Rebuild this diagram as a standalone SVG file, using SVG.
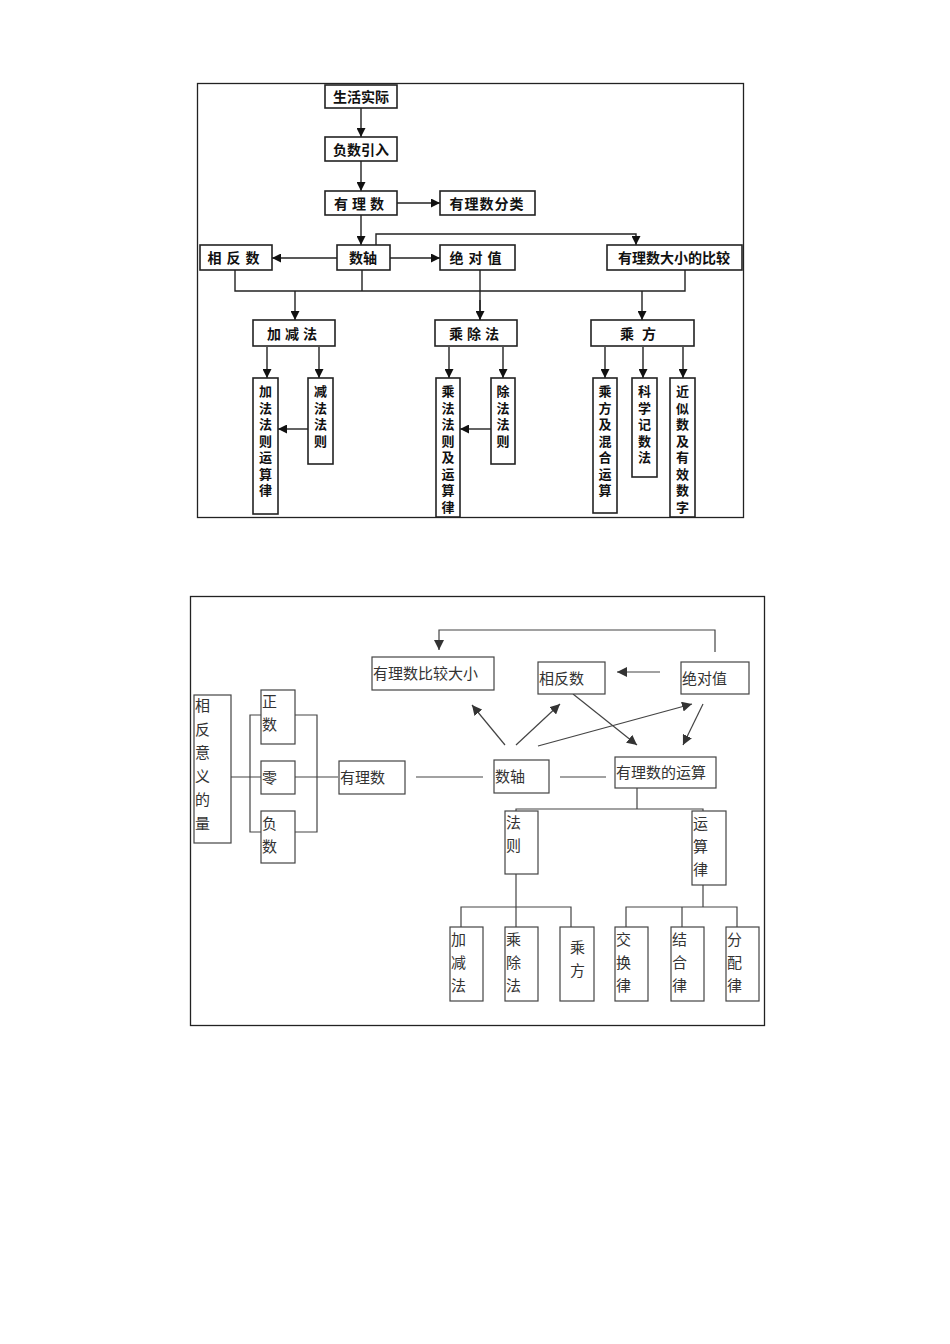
<svg xmlns="http://www.w3.org/2000/svg" width="950" height="1344" viewBox="0 0 950 1344">
<defs>
<marker id="a" viewBox="0 0 10 10" refX="10" refY="5" markerWidth="9" markerHeight="9" markerUnits="userSpaceOnUse" orient="auto"><path d="M0,0L10,5L0,10z" fill="#111"/></marker>
<marker id="b" viewBox="0 0 10 10" refX="10" refY="5" markerWidth="10" markerHeight="10" markerUnits="userSpaceOnUse" orient="auto"><path d="M0,0L10,5L0,10z" fill="#333"/></marker>
</defs>
<style>
.f{fill:none;stroke:#222;stroke-width:1.3}
.t rect{fill:#fff;stroke:#222;stroke-width:1.6}
.t text{font-family:"Noto Sans CJK SC",sans-serif;font-size:14px;font-weight:bold;fill:#111}
.t text.v{font-size:13px}
.b rect{fill:#fff;stroke:#444;stroke-width:1.2}
.b text{font-family:"Noto Sans CJK SC",sans-serif;font-size:15px;fill:#333}
.c1 path{fill:none;stroke:#222;stroke-width:1.4}
.c2 path{fill:none;stroke:#444;stroke-width:1.2}
</style>
<rect x="197.5" y="83.5" width="546" height="434" class="f"/>
<rect x="190.5" y="596.5" width="574" height="429" class="f"/>
<g class="c1">
<path d="M361,108V137" marker-end="url(#a)"/>
<path d="M361,161V191" marker-end="url(#a)"/>
<path d="M397,203H440" marker-end="url(#a)"/>
<path d="M361,215V245" marker-end="url(#a)"/>
<path d="M337,258H272" marker-end="url(#a)"/>
<path d="M390,258H440" marker-end="url(#a)"/>
<path d="M376,245V234H636V245" marker-end="url(#a)"/>
<path d="M235,270V291H685V270M362,270V291M480,270V320"/>
<path d="M480,300V320" marker-end="url(#a)"/>
<path d="M295,291V320" marker-end="url(#a)"/>
<path d="M642,291V320" marker-end="url(#a)"/>
<path d="M267,347V378" marker-end="url(#a)"/>
<path d="M319,347V378" marker-end="url(#a)"/>
<path d="M308,429H278" marker-end="url(#a)"/>
<path d="M449,347V378" marker-end="url(#a)"/>
<path d="M503,347V378" marker-end="url(#a)"/>
<path d="M491,429H460" marker-end="url(#a)"/>
<path d="M605,347V378" marker-end="url(#a)"/>
<path d="M643,347V378" marker-end="url(#a)"/>
<path d="M683,347V378" marker-end="url(#a)"/>
</g>
<g class="t">
<g id="n1"><rect x="325" y="85" width="72" height="23"/><text x="361" y="102" text-anchor="middle">生活实际</text></g>
<g id="n2"><rect x="325" y="137" width="72" height="24"/><text x="361" y="155" text-anchor="middle">负数引入</text></g>
<g id="n3"><rect x="325" y="191" width="72" height="24"/><text x="361" y="209" text-anchor="middle" letter-spacing="4">有理数</text></g>
<g id="n4"><rect x="440" y="191" width="95" height="24"/><text x="487" y="209" text-anchor="middle" letter-spacing="1">有理数分类</text></g>
<g id="n5"><rect x="337" y="245" width="53" height="25"/><text x="363" y="263" text-anchor="middle">数轴</text></g>
<g id="n6"><rect x="200" y="245" width="72" height="25"/><text x="236" y="263" text-anchor="middle" letter-spacing="5">相反数</text></g>
<g id="n7"><rect x="440" y="245" width="75" height="25"/><text x="478" y="263" text-anchor="middle" letter-spacing="5">绝对值</text></g>
<g id="n8"><rect x="607" y="245" width="135" height="25"/><text x="674" y="263" text-anchor="middle">有理数大小的比较</text></g>
<g id="n9"><rect x="253" y="320" width="82" height="26"/><text x="294" y="339" text-anchor="middle" letter-spacing="4">加减法</text></g>
<g id="n10"><rect x="435" y="320" width="82" height="26"/><text x="476" y="339" text-anchor="middle" letter-spacing="4">乘除法</text></g>
<g id="n11"><rect x="591" y="320" width="103" height="26"/><text x="642" y="339" text-anchor="middle" letter-spacing="8">乘方</text></g>
<g id="n12"><rect x="253" y="378" width="25" height="136"/><text class="v" text-anchor="middle"><tspan x="265.5" y="396">加</tspan><tspan x="265.5" dy="16.5">法</tspan><tspan x="265.5" dy="16.5">法</tspan><tspan x="265.5" dy="16.5">则</tspan><tspan x="265.5" dy="16.5">运</tspan><tspan x="265.5" dy="16.5">算</tspan><tspan x="265.5" dy="16.5">律</tspan></text></g>
<g id="n13"><rect x="308" y="378" width="25" height="86"/><text class="v" text-anchor="middle"><tspan x="320.5" y="396">减</tspan><tspan x="320.5" dy="16.5">法</tspan><tspan x="320.5" dy="16.5">法</tspan><tspan x="320.5" dy="16.5">则</tspan></text></g>
<g id="n14"><rect x="436" y="378" width="24" height="139"/><text class="v" text-anchor="middle"><tspan x="448" y="396">乘</tspan><tspan x="448" dy="16.5">法</tspan><tspan x="448" dy="16.5">法</tspan><tspan x="448" dy="16.5">则</tspan><tspan x="448" dy="16.5">及</tspan><tspan x="448" dy="16.5">运</tspan><tspan x="448" dy="16.5">算</tspan><tspan x="448" dy="16.5">律</tspan></text></g>
<g id="n15"><rect x="491" y="378" width="24" height="86"/><text class="v" text-anchor="middle"><tspan x="503" y="396">除</tspan><tspan x="503" dy="16.5">法</tspan><tspan x="503" dy="16.5">法</tspan><tspan x="503" dy="16.5">则</tspan></text></g>
<g id="n16"><rect x="593" y="378" width="24" height="135"/><text class="v" text-anchor="middle"><tspan x="605" y="396">乘</tspan><tspan x="605" dy="16.5">方</tspan><tspan x="605" dy="16.5">及</tspan><tspan x="605" dy="16.5">混</tspan><tspan x="605" dy="16.5">合</tspan><tspan x="605" dy="16.5">运</tspan><tspan x="605" dy="16.5">算</tspan></text></g>
<g id="n17"><rect x="632" y="378" width="25" height="99"/><text class="v" text-anchor="middle"><tspan x="644.5" y="396">科</tspan><tspan x="644.5" dy="16.5">学</tspan><tspan x="644.5" dy="16.5">记</tspan><tspan x="644.5" dy="16.5">数</tspan><tspan x="644.5" dy="16.5">法</tspan></text></g>
<g id="n18"><rect x="670" y="378" width="25" height="139"/><text class="v" text-anchor="middle"><tspan x="682.5" y="396">近</tspan><tspan x="682.5" dy="16.5">似</tspan><tspan x="682.5" dy="16.5">数</tspan><tspan x="682.5" dy="16.5">及</tspan><tspan x="682.5" dy="16.5">有</tspan><tspan x="682.5" dy="16.5">效</tspan><tspan x="682.5" dy="16.5">数</tspan><tspan x="682.5" dy="16.5">字</tspan></text></g>
</g>
<g class="c2">
<path d="M715,652V630H439V650" marker-end="url(#b)"/>
<path d="M660,672H617" marker-end="url(#b)"/>
<path d="M505,745L472,705" marker-end="url(#b)"/>
<path d="M516,745L560,704" marker-end="url(#b)"/>
<path d="M538,746L692,704" marker-end="url(#b)"/>
<path d="M573,694L637,745" marker-end="url(#b)"/>
<path d="M703,704L683,745" marker-end="url(#b)"/>
<path d="M231,777H261M261,715H250V832H261M295,715H317V832H295M295,777H338M416,777H483M560,777H606"/>
<path d="M637,788V809M516,811V809H703V811M516,874V907M461,927V907H571V927M516,907V927M703,885V907M626,927V907H737V927M682,907V927"/>
</g>
<g class="b">
<g id="m1"><rect x="372" y="657" width="122" height="33"/><text x="373" y="679">有理数比较大小</text></g>
<g id="m2"><rect x="538" y="662" width="67" height="32"/><text x="539" y="684">相反数</text></g>
<g id="m3"><rect x="681" y="662" width="68" height="32"/><text x="682" y="684">绝对值</text></g>
<g id="m4"><rect x="194" y="695" width="37" height="148"/><text><tspan x="195" y="711">相</tspan><tspan x="195" dy="23.5">反</tspan><tspan x="195" dy="23.5">意</tspan><tspan x="195" dy="23.5">义</tspan><tspan x="195" dy="23.5">的</tspan><tspan x="195" dy="23.5">量</tspan></text></g>
<g id="m5"><rect x="261" y="690" width="34" height="54"/><text><tspan x="262" y="707">正</tspan><tspan x="262" dy="23">数</tspan></text></g>
<g id="m6"><rect x="261" y="761" width="34" height="33"/><text x="262" y="783">零</text></g>
<g id="m7"><rect x="261" y="811" width="34" height="52"/><text><tspan x="262" y="829">负</tspan><tspan x="262" dy="23">数</tspan></text></g>
<g id="m8"><rect x="339" y="761" width="66" height="33"/><text x="340" y="783">有理数</text></g>
<g id="m9"><rect x="494" y="760" width="55" height="33"/><text x="495" y="782">数轴</text></g>
<g id="m10"><rect x="615" y="757" width="101" height="31"/><text x="616" y="778">有理数的运算</text></g>
<g id="m11"><rect x="505" y="811" width="33" height="63"/><text><tspan x="506" y="828">法</tspan><tspan x="506" dy="23">则</tspan></text></g>
<g id="m12"><rect x="692" y="811" width="34" height="74"/><text><tspan x="693" y="829">运</tspan><tspan x="693" dy="23">算</tspan><tspan x="693" dy="23">律</tspan></text></g>
<g id="m13"><rect x="450" y="927" width="33" height="74"/><text><tspan x="451" y="945">加</tspan><tspan x="451" dy="23">减</tspan><tspan x="451" dy="23">法</tspan></text></g>
<g id="m14"><rect x="505" y="927" width="33" height="74"/><text><tspan x="506" y="945">乘</tspan><tspan x="506" dy="23">除</tspan><tspan x="506" dy="23">法</tspan></text></g>
<g id="m15"><rect x="560" y="927" width="34" height="74"/><text><tspan x="570" y="953">乘</tspan><tspan x="570" dy="23">方</tspan></text></g>
<g id="m16"><rect x="615" y="927" width="33" height="74"/><text><tspan x="616" y="945">交</tspan><tspan x="616" dy="23">换</tspan><tspan x="616" dy="23">律</tspan></text></g>
<g id="m17"><rect x="671" y="927" width="33" height="74"/><text><tspan x="672" y="945">结</tspan><tspan x="672" dy="23">合</tspan><tspan x="672" dy="23">律</tspan></text></g>
<g id="m18"><rect x="726" y="927" width="33" height="74"/><text><tspan x="727" y="945">分</tspan><tspan x="727" dy="23">配</tspan><tspan x="727" dy="23">律</tspan></text></g>
</g>
</svg>
